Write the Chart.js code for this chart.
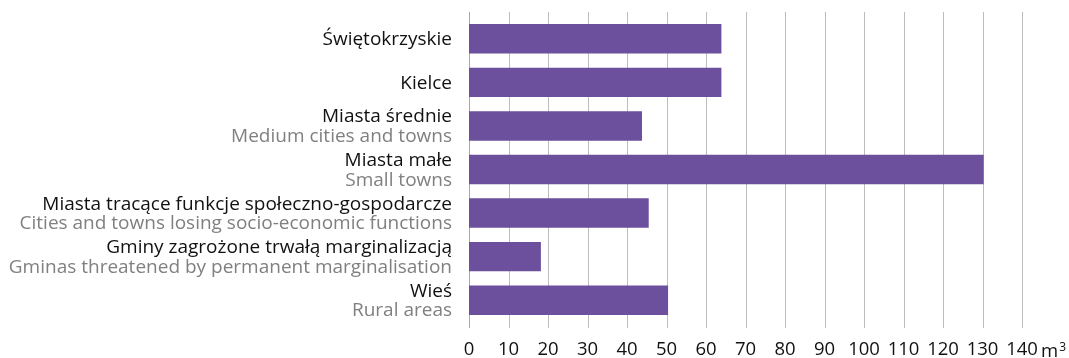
<!DOCTYPE html>
<html>
<head>
<meta charset="utf-8">
<script src="https://cdn.jsdelivr.net/npm/chart.js@4/dist/chart.umd.min.js"></script>
<style>
  html, body { margin: 0; padding: 0; background: #fff; }
  #chart { display: block; }
</style>
</head>
<body>
<canvas id="chart" width="1069" height="358"></canvas>
<script>
// categories: Polish name + English translation (second line, grey)
const labelsPl = [
  'Świętokrzyskie',
  'Kielce',
  'Miasta średnie',
  'Miasta małe',
  'Miasta tracące funkcje społeczno-gospodarcze',
  'Gminy zagrożone trwałą marginalizacją',
  'Wieś'
];
const labelsEn = [
  '',
  '',
  'Medium cities and towns',
  'Small towns',
  'Cities and towns losing socio-economic functions',
  'Gminas threatened by permanent marginalisation',
  'Rural areas'
];
// water consumption per capita, m3
const values = [63.9, 63.9, 43.8, 130.3, 45.5, 18.2, 50.4];

const xMin = 0;
const xMax = 140;
const xStep = 10;
const unitLabel = 'm';
const unitSup = '3';

const FONT = '"Open Sans", "Noto Sans", sans-serif';
const BAR = '#6c4f9d';
const GRID = '#bdbdbd';

// vertical gridlines, running a bit past the plot area at top and bottom
const gridLines = {
  id: 'gridLines',
  beforeDatasetsDraw(chart) {
    const { ctx, chartArea, scales: { x } } = chart;
    ctx.save();
    ctx.lineWidth = 1;
    x.ticks.forEach((t, i) => {
      const px = Math.round(x.getPixelForValue(t.value)) + 0.5;
      ctx.strokeStyle = i === 0 ? '#a8a8a8' : GRID;
      ctx.beginPath();
      ctx.moveTo(px, chartArea.top - 5);
      ctx.lineTo(px, chartArea.bottom + 6);
      ctx.stroke();
    });
    ctx.restore();
  }
};

// two-coloured category labels and the unit after the last tick
const sideLabels = {
  id: 'sideLabels',
  afterDraw(chart) {
    const { ctx, chartArea, scales: { x, y } } = chart;
    ctx.save();
    ctx.font = '19px ' + FONT;
    ctx.textAlign = 'right';
    ctx.textBaseline = 'alphabetic';
    const right = chartArea.left - 17;
    labelsPl.forEach((pl, i) => {
      const cy = y.getPixelForValue(i);
      if (labelsEn[i]) {
        ctx.fillStyle = '#111';
        ctx.fillText(pl, right, cy - 3.5);
        ctx.fillStyle = '#808080';
        ctx.fillText(labelsEn[i], right, cy + 16);
      } else {
        ctx.fillStyle = '#111';
        ctx.fillText(pl, right, cy + 6.5);
      }
    });

    const lastPx = x.getPixelForValue(xMax);
    const base = chartArea.bottom + 34.5;
    ctx.textAlign = 'left';
    ctx.fillStyle = '#111';
    ctx.font = '18.5px ' + FONT;
    const mx = lastPx + 19;
    ctx.fillText(unitLabel, mx, base);
    const mw = ctx.measureText(unitLabel).width;
    ctx.font = '12px ' + FONT;
    ctx.fillText(unitSup, mx + mw + 1, base - 6);
    ctx.restore();
  }
};

new Chart(document.getElementById('chart'), {
  type: 'bar',
  data: {
    labels: labelsPl,
    datasets: [{
      data: values,
      backgroundColor: BAR,
      borderWidth: 0,
      categoryPercentage: 1,
      barPercentage: 0.675
    }]
  },
  options: {
    indexAxis: 'y',
    responsive: false,
    animation: false,
    layout: { padding: { top: 17, right: 47, left: 0, bottom: 0 } },
    plugins: {
      legend: { display: false },
      tooltip: { enabled: false }
    },
    scales: {
      x: {
        min: xMin,
        max: xMax,
        border: { display: false },
        grid: { display: false },
        ticks: {
          stepSize: xStep,
          padding: 9,
          color: '#111',
          font: { family: FONT, size: 18.5 },
          maxRotation: 0
        },
        afterFit(scale) { scale.height = 36; }
      },
      y: {
        border: { display: false },
        grid: { display: false },
        ticks: { display: false },
        afterFit(scale) { scale.width = 469; }
      }
    }
  },
  plugins: [gridLines, sideLabels]
});
</script>
</body>
</html>
